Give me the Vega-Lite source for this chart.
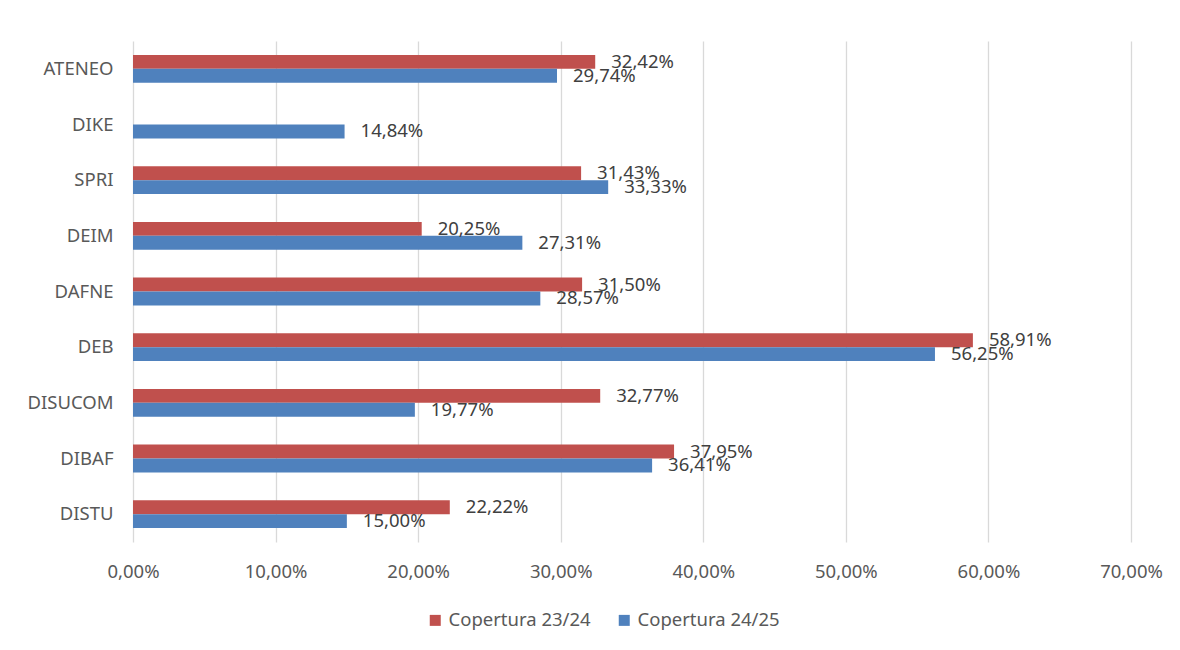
{
  "$schema": "https://vega.github.io/schema/vega-lite/v6.json",
  "width": 998,
  "height": 501,
  "autosize": "none",
  "padding": {"left": 133, "top": 41, "right": 49, "bottom": 108},
  "config": {
    "font": "Noto Sans",
    "view": {"stroke": null},
    "locale": {"number": {"decimal": ",", "thousands": ".", "grouping": [3], "currency": ["€", ""]}}
  },
  "data": {
    "values": [
      {"dip": "ATENEO", "serie": "Copertura 23/24", "v": 0.3242},
      {"dip": "ATENEO", "serie": "Copertura 24/25", "v": 0.2974},
      {"dip": "DIKE", "serie": "Copertura 24/25", "v": 0.1484},
      {"dip": "SPRI", "serie": "Copertura 23/24", "v": 0.3143},
      {"dip": "SPRI", "serie": "Copertura 24/25", "v": 0.3333},
      {"dip": "DEIM", "serie": "Copertura 23/24", "v": 0.2025},
      {"dip": "DEIM", "serie": "Copertura 24/25", "v": 0.2731},
      {"dip": "DAFNE", "serie": "Copertura 23/24", "v": 0.3150},
      {"dip": "DAFNE", "serie": "Copertura 24/25", "v": 0.2857},
      {"dip": "DEB", "serie": "Copertura 23/24", "v": 0.5891},
      {"dip": "DEB", "serie": "Copertura 24/25", "v": 0.5625},
      {"dip": "DISUCOM", "serie": "Copertura 23/24", "v": 0.3277},
      {"dip": "DISUCOM", "serie": "Copertura 24/25", "v": 0.1977},
      {"dip": "DIBAF", "serie": "Copertura 23/24", "v": 0.3795},
      {"dip": "DIBAF", "serie": "Copertura 24/25", "v": 0.3641},
      {"dip": "DISTU", "serie": "Copertura 23/24", "v": 0.2222},
      {"dip": "DISTU", "serie": "Copertura 24/25", "v": 0.1500}
    ]
  },
  "encoding": {
    "y": {
      "field": "dip", "type": "nominal",
      "sort": ["ATENEO", "DIKE", "SPRI", "DEIM", "DAFNE", "DEB", "DISUCOM", "DIBAF", "DISTU"],
      "scale": {"paddingInner": 0.5, "paddingOuter": 0.25},
      "axis": {"title": null, "ticks": false, "domain": false, "labelFontSize": 18.5, "labelColor": "#595959", "labelPadding": 20}
    },
    "yOffset": {
      "field": "serie", "type": "nominal",
      "scale": {"domain": ["Copertura 23/24", "Copertura 24/25"], "paddingInner": 0, "paddingOuter": 0}
    },
    "x": {
      "field": "v", "type": "quantitative",
      "scale": {"domain": [0, 0.7], "nice": false},
      "axis": {"title": null, "format": ".2%", "values": [0, 0.1, 0.2, 0.3, 0.4, 0.5, 0.6, 0.7], "grid": true, "gridColor": "#D9D9D9", "gridWidth": 1.3, "domain": false, "ticks": false, "labelFlush": false, "labelFontSize": 18.5, "labelColor": "#595959", "labelPadding": 20}
    }
  },
  "layer": [
    {
      "mark": {"type": "bar"},
      "encoding": {
        "color": {
          "field": "serie", "type": "nominal",
          "scale": {"domain": ["Copertura 23/24", "Copertura 24/25"], "range": ["#C0504D", "#4F81BD"]},
          "legend": {
            "title": null, "orient": "none", "direction": "horizontal",
            "legendX": 293, "legendY": 570,
            "symbolType": "square", "symbolSize": 121, "symbolStrokeWidth": 0,
            "labelFontSize": 18.5, "labelColor": "#595959", "columnPadding": 24, "labelOffset": 4
          }
        }
      }
    },
    {
      "mark": {"type": "text", "align": "left", "baseline": "middle", "dx": 16, "fontSize": 18.5, "color": "#404040"},
      "encoding": {
        "text": {"field": "v", "type": "quantitative", "format": ".2%"}
      }
    }
  ]
}
